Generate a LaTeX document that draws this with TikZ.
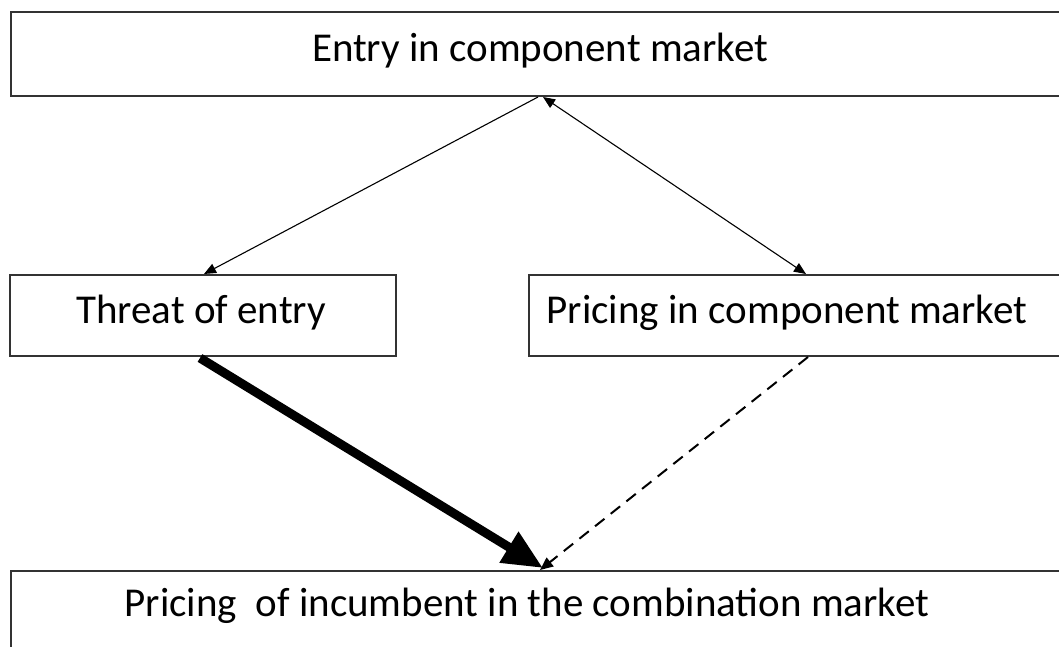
\documentclass[tikz,border=0pt]{standalone}
\usepackage{fontspec}
\setmainfont{Carlito}
\usetikzlibrary{arrows.meta}
\begin{document}
\begin{tikzpicture}[x=1pt,y=-1pt,
  box/.style={draw=black!80,line width=2pt,fill=none},
  lbl/.style={font=\fontsize{41}{46}\selectfont,anchor=center,inner sep=0},
  thin/.style={line width=1.1pt,-{Triangle[length=12pt,width=10pt]}},
  dbl/.style={line width=1.1pt,{Triangle[length=12pt,width=10pt]}-{Triangle[length=12pt,width=10pt]}}]
\useasboundingbox (0,0) rectangle (1059,646);
\draw[box] (1070,12) -- (11,12) -- (11,96) -- (1070,96);
\node[lbl] (top) at (540,51) {Entry in component market};
\draw[box] (10,275) rectangle (396,356);
\node[lbl] (threat) at (201,313) {Threat of entry};
\draw[box] (1070,275) -- (529,275) -- (529,356) -- (1070,356);
\node[lbl] (pcm) at (787,313) {Pricing in component market};
\draw[box] (1070,571) -- (11,571) -- (11,660);
\node[lbl] (bot) at (527,606) {Pricing\ \ of incumbent in the combination market};
\coordinate (tA) at (538,97);
\coordinate (tB) at (543,97);
\coordinate (thT) at (204,274);
\coordinate (pcT) at (806,274);
\coordinate (thB) at (200,358);
\coordinate (pcB) at (808,357);
\coordinate (bA) at (543,568);
\coordinate (bB) at (540,570);
\draw[thin] (tA) -- (thT);
\draw[dbl] (tB) -- (pcT);
\draw[line width=9pt,-{Triangle[length=40pt,width=34pt]}] (thB) -- (bA);
\draw[line width=2pt,dash pattern=on 12pt off 8pt,-{Triangle[length=13pt,width=11pt]}] (pcB) -- (bB);
\end{tikzpicture}
\end{document}
